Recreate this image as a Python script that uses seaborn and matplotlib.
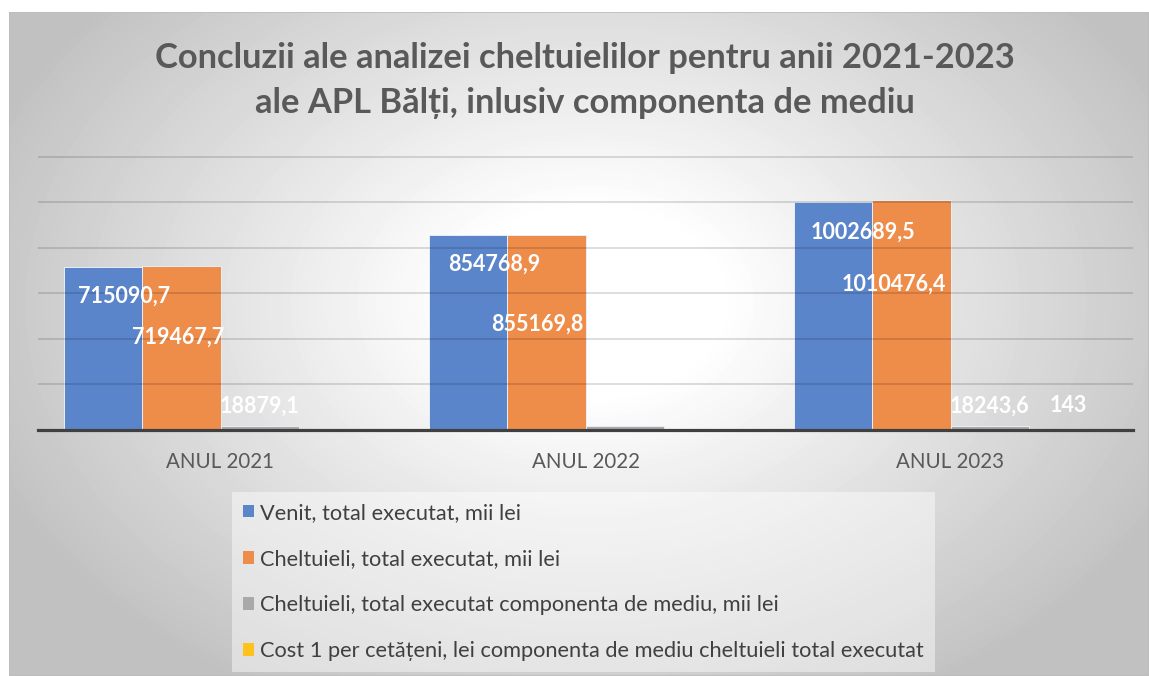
import numpy as np
import pandas as pd
import matplotlib
matplotlib.use("Agg")
import matplotlib.pyplot as plt
from matplotlib.patches import Patch, Rectangle
import seaborn as sns

years = ["ANUL 2021", "ANUL 2022", "ANUL 2023"]
series_names = [
    "Venit, total executat, mii lei",
    "Cheltuieli, total executat, mii lei",
    "Cheltuieli, total executat componenta de mediu, mii lei",
    "Cost 1 per cetățeni, lei componenta de mediu cheltuieli total executat",
]
venit = [715090.7, 854768.9, 1002689.5]
cheltuieli = [719467.7, 855169.8, 1010476.4]
cheltuieli_mediu = [18879.1, 17600.0, 18243.6]
cost_cetatean = [135, 138, 143]

# etichetele afisate in original (None = fara eticheta)
value_labels = [
    ["715090,7", "854768,9", "1002689,5"],
    ["719467,7", "855169,8", "1010476,4"],
    ["18879,1", None, "18243,6"],
    [None, None, "143"],
]

colors = ["#5B85CB", "#EE8C4A", "#A9A9A9", "#FFC21A"]

# deplasarea etichetelor fata de varful barei, in pixeli
label_offsets = [
    [(21, -29), (26, -29), (30, -31)],
    [(-3, -71), (-9, -89), (-17, -84)],
    [(0, 19), None, (0, 20)],
    [None, None, (0, 24)],
]

W, H = 1149, 676

df = pd.DataFrame({
    "An": years * 4,
    "Indicator": np.repeat(series_names, 3),
    "Valoare": venit + cheltuieli + cheltuieli_mediu + cost_cetatean,
})

sns.set_style("white")
plt.rcParams["font.family"] = ["Lato", "DejaVu Sans"]

fig = plt.figure(figsize=(W / 100, H / 100), dpi=100)
fig.patch.set_facecolor("white")

# fundal cu gradient radial
bg = fig.add_axes([9 / W, 0, (W - 9) / W, (H - 12) / H])
gh, gw = H - 12, W - 9
yy, xx = np.mgrid[0:gh, 0:gw]
r = np.sqrt(((xx - 580) / 600.0) ** 2 + ((yy - 290) / 420.0) ** 2)
grad = 1 - 0.24 * np.clip((r - 0.22) / 0.85, 0, 1)
bg.imshow(grad, cmap="gray", vmin=0, vmax=1, aspect="auto", interpolation="bilinear")
bg.axis("off")
bg.add_patch(Rectangle((0, 0), 1, 1, transform=bg.transAxes, fill=False,
                       edgecolor="#bdbdbd", lw=1.2))
bg.set_zorder(0)

ymax = 1.21e6
ax = fig.add_axes([38 / W, (H - 430) / H, 1095 / W, 273.3 * (ymax / 1.2e6) / H])
ax.set_zorder(1)
ax.patch.set_alpha(0)

sns.barplot(data=df, x="An", y="Valoare", hue="Indicator", hue_order=series_names,
            palette=colors, saturation=1, width=0.86, edgecolor="#e8eef8", linewidth=0.7,
            ax=ax, legend=False)

ax.set_ylim(0, ymax)
ax.set_xlim(-0.5, 2.5)
ax.set_yticks(np.arange(0, 1.2e6 + 1, 2e5))
ax.set_yticklabels([])
ax.yaxis.grid(True, color="black", alpha=0.17, lw=1.1, zorder=3)
ax.set_axisbelow(False)
for s in ["top", "right", "left"]:
    ax.spines[s].set_visible(False)
ax.spines["bottom"].set_color("#404040")
ax.spines["bottom"].set_linewidth(2.3)
ax.spines["bottom"].set_zorder(5)
ax.tick_params(length=0)
ax.tick_params(axis="x", pad=16, labelsize=14.8, labelcolor="#595959")
ax.set_xlabel("")
ax.set_ylabel("")

for i, cont in enumerate(ax.containers):
    for j, bar in enumerate(cont):
        txt = value_labels[i][j]
        if txt is None:
            continue
        dx, dy = label_offsets[i][j]
        ax.annotate(txt, (bar.get_x() + bar.get_width() / 2, bar.get_height()),
                    xytext=(dx, dy), textcoords="offset pixels",
                    ha="center", va="center", color="white",
                    fontsize=15.5, fontweight="bold", zorder=6)

fig.text(585 / W, 1 - 58 / H, "Concluzii ale analizei cheltuielilor pentru anii 2021-2023",
         ha="center", va="center", fontsize=24.8, fontweight="bold", color="#595959")
fig.text(585 / W, 1 - 103 / H, "ale APL Bălți, inlusiv componenta de mediu",
         ha="center", va="center", fontsize=24.8, fontweight="bold", color="#595959")

handles = [Patch(facecolor=c, edgecolor="none") for c in colors]
leg = fig.legend(handles, series_names, loc="upper left",
                 bbox_to_anchor=(232 / W, 1 - 492 / H), borderaxespad=0, frameon=True,
                 facecolor="white", framealpha=0.45, edgecolor="none", fancybox=False,
                 fontsize=15.7, labelcolor="#404040", handlelength=0.5, handleheight=0.5,
                 handletextpad=0.3, labelspacing=1.2, borderpad=0.5)
leg.set_zorder(3)

fig.savefig("out.png", dpi=100)
